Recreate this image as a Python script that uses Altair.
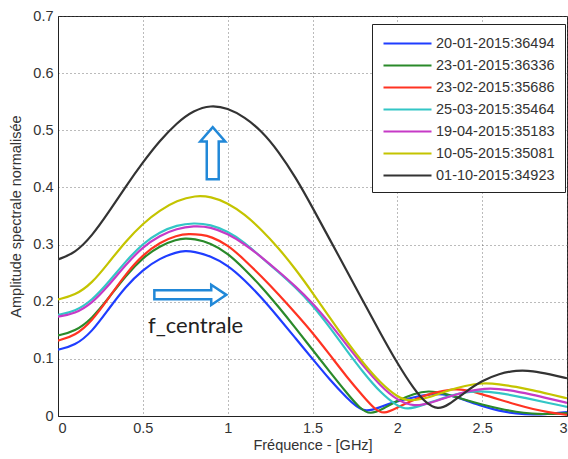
import altair as alt
import pandas as pd

labels = ["20-01-2015:36494", "23-01-2015:36336", "23-02-2015:35686",
          "25-03-2015:35464", "19-04-2015:35183", "10-05-2015:35081",
          "01-10-2015:34923"]
colors = ["#1f3dff", "#2a8a2a", "#ff3322", "#33c6c6", "#c63ac6", "#c4c400", "#333333"]

blue_x = [0, 0.1, 0.2, 0.3, 0.4, 0.5, 0.6, 0.7, 0.75, 0.8, 0.9, 1.0, 1.1, 1.2, 1.3, 1.4, 1.5, 1.6, 1.7, 1.8, 1.9, 2.0, 2.1, 2.2, 2.3, 2.4, 2.5, 2.6, 2.7, 2.8, 2.9, 3.0]
blue_y = [0.116, 0.123, 0.147, 0.188, 0.227, 0.256, 0.276, 0.287, 0.289, 0.288, 0.28, 0.264, 0.238, 0.207, 0.172, 0.136, 0.1, 0.064, 0.032, 0.004, 0.016, 0.026, 0.033, 0.039, 0.038, 0.028, 0.017, 0.009, 0.004, 0.002, 0.004, 0.007]

green_x = [0, 0.1, 0.2, 0.3, 0.4, 0.5, 0.6, 0.7, 0.75, 0.8, 0.9, 1.0, 1.1, 1.2, 1.3, 1.4, 1.5, 1.6, 1.7, 1.78, 1.84, 1.92, 2.0, 2.1, 2.18, 2.3, 2.4, 2.5, 2.6, 2.7, 2.8, 2.86, 3.0]
green_y = [0.141, 0.148, 0.17, 0.207, 0.246, 0.277, 0.298, 0.309, 0.311, 0.31, 0.303, 0.285, 0.257, 0.226, 0.191, 0.154, 0.116, 0.078, 0.041, 0.013, 0.002, 0.013, 0.027, 0.039, 0.045, 0.038, 0.028, 0.02, 0.013, 0.007, 0.004, 0.003, 0.005]

red_x = [0, 0.1, 0.2, 0.3, 0.4, 0.5, 0.6, 0.7, 0.77, 0.85, 0.9, 1.0, 1.1, 1.2, 1.3, 1.4, 1.5, 1.6, 1.7, 1.8, 1.87, 1.92, 2.0, 2.1, 2.2, 2.33, 2.4, 2.5, 2.6, 2.7, 2.8, 2.9, 3.0]
red_y = [0.132, 0.14, 0.166, 0.207, 0.249, 0.282, 0.304, 0.316, 0.319, 0.317, 0.314, 0.3, 0.273, 0.244, 0.213, 0.18, 0.146, 0.108, 0.069, 0.034, 0.011, 0.003, 0.015, 0.029, 0.04, 0.048, 0.046, 0.038, 0.029, 0.02, 0.012, 0.006, 0.002]

cyan_x = [0, 0.1, 0.2, 0.3, 0.4, 0.5, 0.6, 0.7, 0.8, 0.9, 1.0, 1.1, 1.2, 1.3, 1.4, 1.5, 1.6, 1.7, 1.8, 1.9, 2.0, 2.06, 2.15, 2.3, 2.45, 2.6, 2.75, 2.9, 3.0]
cyan_y = [0.177, 0.183, 0.202, 0.235, 0.271, 0.302, 0.322, 0.334, 0.338, 0.335, 0.323, 0.304, 0.277, 0.252, 0.225, 0.194, 0.156, 0.115, 0.076, 0.041, 0.017, 0.011, 0.019, 0.035, 0.045, 0.041, 0.032, 0.022, 0.016]

magenta_x = [0, 0.1, 0.2, 0.3, 0.4, 0.5, 0.6, 0.7, 0.8, 0.9, 1.0, 1.1, 1.2, 1.3, 1.4, 1.5, 1.6, 1.7, 1.8, 1.9, 2.0, 2.1, 2.2, 2.35, 2.52, 2.65, 2.8, 2.9, 3.0]
magenta_y = [0.174, 0.179, 0.197, 0.229, 0.265, 0.296, 0.316, 0.328, 0.333, 0.331, 0.319, 0.301, 0.278, 0.253, 0.227, 0.198, 0.163, 0.125, 0.087, 0.053, 0.027, 0.016, 0.023, 0.039, 0.05, 0.046, 0.037, 0.03, 0.023]

yellow_x = [0, 0.1, 0.2, 0.3, 0.4, 0.5, 0.6, 0.7, 0.81, 0.9, 1.0, 1.1, 1.2, 1.3, 1.4, 1.5, 1.6, 1.7, 1.8, 1.9, 2.0, 2.07, 2.2, 2.3, 2.4, 2.5, 2.6, 2.7, 2.8, 2.9, 3.0]
yellow_y = [0.204, 0.211, 0.232, 0.269, 0.306, 0.337, 0.36, 0.377, 0.386, 0.384, 0.373, 0.353, 0.326, 0.294, 0.257, 0.216, 0.173, 0.131, 0.092, 0.058, 0.033, 0.025, 0.033, 0.045, 0.053, 0.058, 0.056, 0.051, 0.045, 0.038, 0.031]

black_x = [0, 0.1, 0.2, 0.3, 0.4, 0.5, 0.6, 0.7, 0.8, 0.9, 1.0, 1.1, 1.2, 1.3, 1.4, 1.5, 1.6, 1.7, 1.8, 1.9, 2.0, 2.1, 2.17, 2.24, 2.3, 2.4, 2.5, 2.6, 2.7, 2.8, 2.9, 3.0]
black_y = [0.274, 0.285, 0.315, 0.357, 0.402, 0.444, 0.482, 0.513, 0.535, 0.544, 0.539, 0.523, 0.499, 0.463, 0.418, 0.365, 0.31, 0.255, 0.2, 0.145, 0.092, 0.046, 0.022, 0.011, 0.019, 0.042, 0.062, 0.074, 0.08, 0.079, 0.073, 0.066]

series_x = [blue_x, green_x, red_x, cyan_x, magenta_x, yellow_x, black_x]
series_y = [blue_y, green_y, red_y, cyan_y, magenta_y, yellow_y, black_y]

x_ticks = [0, 0.5, 1, 1.5, 2, 2.5, 3]
y_ticks = [0, 0.1, 0.2, 0.3, 0.4, 0.5, 0.6, 0.7]

# annotations
text_x = [0.53]
text_y = [0.145]
text_label = ["f_centrale"]
arrow_up_x = [0.912]
arrow_up_y = [0.46]
arrow_right_x = [0.78]
arrow_right_y = [0.212]

rows = []
for lab, xs, ys in zip(labels, series_x, series_y):
    for x, y in zip(xs, ys):
        rows.append({"f": x, "a": y, "serie": lab})
df = pd.DataFrame(rows)

xscale = alt.Scale(domain=[0, 3], nice=False)
yscale = alt.Scale(domain=[0, 0.7], nice=False)

lines = alt.Chart(df).mark_line(strokeWidth=2.2, interpolate="basis", clip=True).encode(
    x=alt.X("f:Q", scale=xscale,
            axis=alt.Axis(values=x_ticks, format="~g", title="Fréquence - [GHz]",
                          labelPadding=5, titlePadding=4)),
    y=alt.Y("a:Q", scale=yscale,
            axis=alt.Axis(values=y_ticks, format=".1~f", title="Amplitude spectrale normalisée",
                          labelPadding=5, titlePadding=9)),
    color=alt.Color("serie:N", scale=alt.Scale(domain=labels, range=colors), sort=labels,
                    legend=alt.Legend(title=None, orient="none", legendX=314, legendY=8,
                                      fillColor="white", strokeColor="#222", padding=10,
                                      rowPadding=6, symbolType="M-1,0H5", symbolSize=256,
                                      symbolStrokeWidth=2.2, labelOffset=35,
                                      labelFontSize=14.5, labelFont="Liberation Sans",
                                      labelColor="#333")),
)

text = alt.Chart(pd.DataFrame({"f": text_x, "a": text_y, "t": text_label})).mark_text(
    align="left", baseline="alphabetic", font="Lato", fontSize=22, color="#222"
).encode(x=alt.X("f:Q", scale=xscale), y=alt.Y("a:Q", scale=yscale), text="t:N")

up_path = "M-0.23,1 L-0.23,-0.45 L-0.48,-0.45 L0,-1 L0.48,-0.45 L0.23,-0.45 L0.23,1 Z"
right_path = "M-1,-0.125 L0.58,-0.125 L0.58,-0.28 L1,0 L0.58,0.28 L0.58,0.125 L-1,0.125 Z"

arrow_up = alt.Chart(pd.DataFrame({"f": arrow_up_x, "a": arrow_up_y})).mark_point(
    shape=up_path, size=2704, filled=False, stroke="#2188d8", strokeWidth=2.5, opacity=1
).encode(x=alt.X("f:Q", scale=xscale), y=alt.Y("a:Q", scale=yscale))

arrow_right = alt.Chart(pd.DataFrame({"f": arrow_right_x, "a": arrow_right_y})).mark_point(
    shape=right_path, size=5184, filled=False, stroke="#2188d8", strokeWidth=2.5, opacity=1
).encode(x=alt.X("f:Q", scale=xscale), y=alt.Y("a:Q", scale=yscale))

chart = alt.layer(lines, text, arrow_up, arrow_right).properties(
    width=509, height=400,
    autosize=alt.AutoSizeParams(type="none"),
    padding={"left": 58, "top": 16, "right": 1, "bottom": 43},
    background="white",
).configure_axis(
    labelFont="Liberation Sans", labelFontSize=14.5, labelColor="#333",
    titleFont="Liberation Sans", titleFontSize=14.5, titleColor="#333", titleFontWeight="normal",
    gridDash=[1, 3], gridColor="#555", gridOpacity=0.8, domainColor="#222", ticks=False,
).configure_view(stroke="#222", strokeWidth=1)

chart.save("out.html", embed_options={"renderer": "svg", "actions": False})
